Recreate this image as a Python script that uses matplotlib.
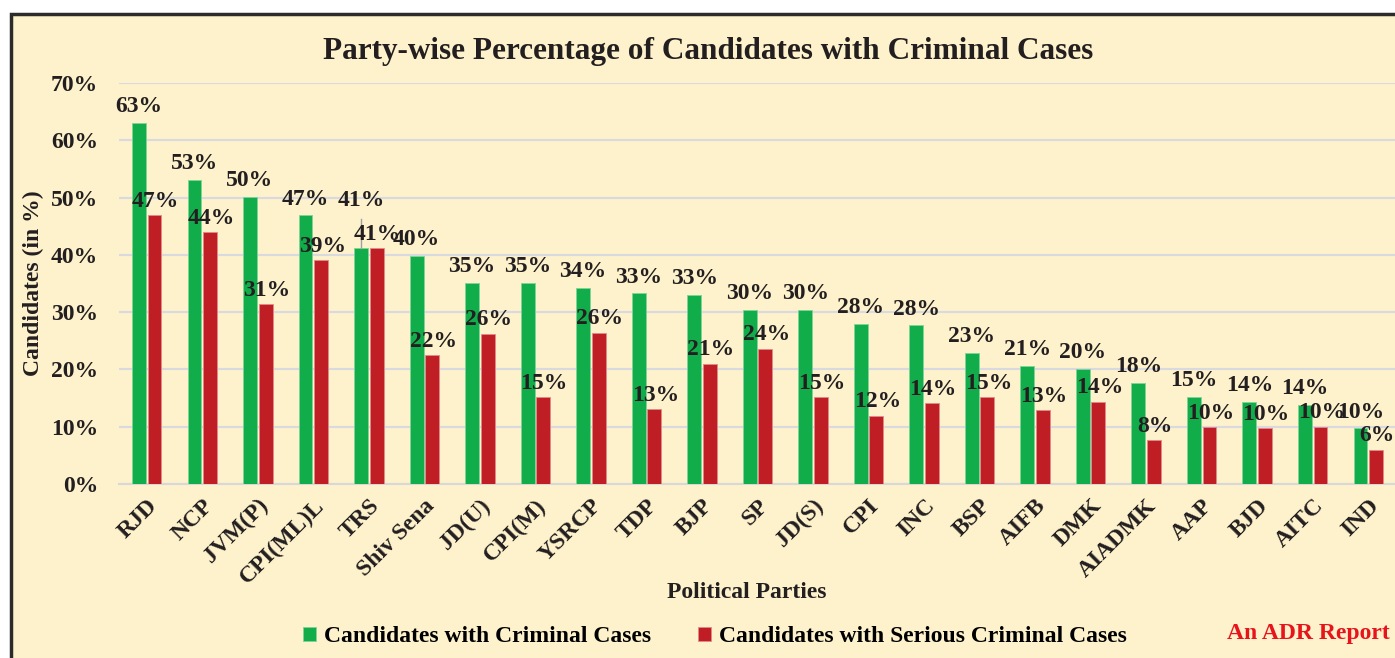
import matplotlib
matplotlib.use("Agg")
import matplotlib.pyplot as plt
import matplotlib.patches as mpatches
import numpy as np

parties = ["RJD", "NCP", "JVM(P)", "CPI(ML)L", "TRS", "Shiv Sena", "JD(U)", "CPI(M)",
           "YSRCP", "TDP", "BJP", "SP", "JD(S)", "CPI", "INC", "BSP", "AIFB", "DMK",
           "AIADMK", "AAP", "BJD", "AITC", "IND"]
criminal = [63.0, 53.1, 50.1, 46.9, 41.2, 39.8, 35.1, 35.1, 34.2, 33.3, 33.0, 30.4, 30.4,
            27.9, 27.7, 22.9, 20.6, 20.1, 17.6, 15.2, 14.4, 13.8, 9.7]
serious = [46.9, 44.0, 31.4, 39.1, 41.2, 22.5, 26.2, 15.1, 26.4, 13.1, 21.0, 23.6, 15.1,
           11.9, 14.1, 15.1, 12.9, 14.4, 7.6, 9.9, 9.7, 10.0, 6.0]
crim_labels = ["63%", "53%", "50%", "47%", "41%", "40%", "35%", "35%", "34%", "33%", "33%",
               "30%", "30%", "28%", "28%", "23%", "21%", "20%", "18%", "15%", "14%", "14%", "10%"]
ser_labels = ["47%", "44%", "31%", "39%", "41%", "22%", "26%", "15%", "26%", "13%", "21%",
              "24%", "15%", "12%", "14%", "15%", "13%", "14%", "8%", "10%", "10%", "10%", "6%"]
yticks = [0, 10, 20, 30, 40, 50, 60, 70]

BG = "#FDF2CB"
GREEN = "#12AD4B"
RED = "#BE1E24"
TXT = "#231F20"
FONT = ["Liberation Serif", "DejaVu Serif"]

W, H = 1395, 658
fig = plt.figure(figsize=(W / 100, H / 100), dpi=100, facecolor="white")
fig.patches.append(mpatches.Rectangle((10.5 / W, -0.05), 1.1, 1 - 13.5 / H + 0.05,
                                      transform=fig.transFigure, facecolor=BG,
                                      edgecolor="#2B2B2B", linewidth=2.5, zorder=-10))

ax = fig.add_axes([119 / W, 1 - 484 / H, (1396 - 119) / W, (484 - 83) / H])
ax.set_facecolor("none")

x = np.arange(len(parties))
bw = 0.25
g = ax.bar(x - bw / 2 - 0.015, criminal, bw, color=GREEN, edgecolor="#7FD39A",
           linewidth=0.6, label="Candidates with Criminal Cases", zorder=3)
r = ax.bar(x + bw / 2 + 0.015, serious, bw, color=RED, edgecolor="#E48A8C",
           linewidth=0.6, label="Candidates with Serious Criminal Cases", zorder=3)

# extra lift for a label that the source moved up (with a leader line)
lift = {"TRS": 5.5}
for name, rect, lab in zip(parties, g, crim_labels):
    cx = rect.get_x() + rect.get_width() / 2
    top = rect.get_height()
    dy = lift.get(name, 0)
    if dy:
        ax.plot([cx, cx], [top, top + dy - 0.5], color="#A0A0A0", lw=1, zorder=4)
    ax.text(cx, top + 1.0 + dy, lab,
            ha="center", va="bottom", fontsize=17, fontweight="bold", color=TXT,
            family=FONT, zorder=5)
for rect, lab in zip(r, ser_labels):
    ax.text(rect.get_x() + rect.get_width() / 2 + 0.02, rect.get_height() + 0.6, lab,
            ha="center", va="bottom", fontsize=17, fontweight="bold", color=TXT,
            family=FONT, zorder=5)

ax.set_xlim(-0.5, len(parties) - 0.5)
ax.set_ylim(0, 70)
ax.set_yticks(yticks)
ax.set_yticklabels([f"{v}%" for v in yticks], fontsize=17, fontweight="bold",
                   family=FONT, color=TXT)
ax.yaxis.grid(True, color="#D8DAE0", linewidth=1.5, zorder=0)
ax.set_axisbelow(True)
ax.tick_params(axis="y", length=0, pad=15)
ax.tick_params(axis="x", length=0, pad=8)
ax.set_xticks(x)
ax.set_xticklabels(parties, rotation=45, ha="right", rotation_mode="anchor",
                   fontsize=17, fontweight="bold", family=FONT, color=TXT)
for s in ["top", "right", "left"]:
    ax.spines[s].set_visible(False)
ax.spines["bottom"].set_color("#D8D8D8")
ax.spines["bottom"].set_linewidth(1.5)

ax.set_ylabel("Candidates (in %)", fontsize=17, fontweight="bold", family=FONT,
              color=TXT)
ax.yaxis.set_label_coords(-0.0587, 0.5)

fig.text(708 / W, 1 - 52 / H, "Party-wise Percentage of Candidates with Criminal Cases",
         ha="center", va="center", fontsize=22.5, fontweight="bold", family=FONT, color=TXT)
fig.text(747 / W, 1 - 592 / H, "Political Parties", ha="center", va="center",
         fontsize=17, fontweight="bold", family=FONT, color=TXT)
fig.text(1390 / W, 1 - 634 / H, "An ADR Report", ha="right", va="center",
         fontsize=17, fontweight="bold", family=FONT, color="#E8141B")

fig.legend(handles=[g, r], loc="center", bbox_to_anchor=(715 / W, 1 - 637 / H),
           ncol=2, frameon=False, handlelength=0.55, handleheight=0.55,
           handletextpad=0.35, columnspacing=2.0,
           prop={"family": FONT, "weight": "bold", "size": 17})

fig.savefig("out.png", dpi=100, facecolor="white")
